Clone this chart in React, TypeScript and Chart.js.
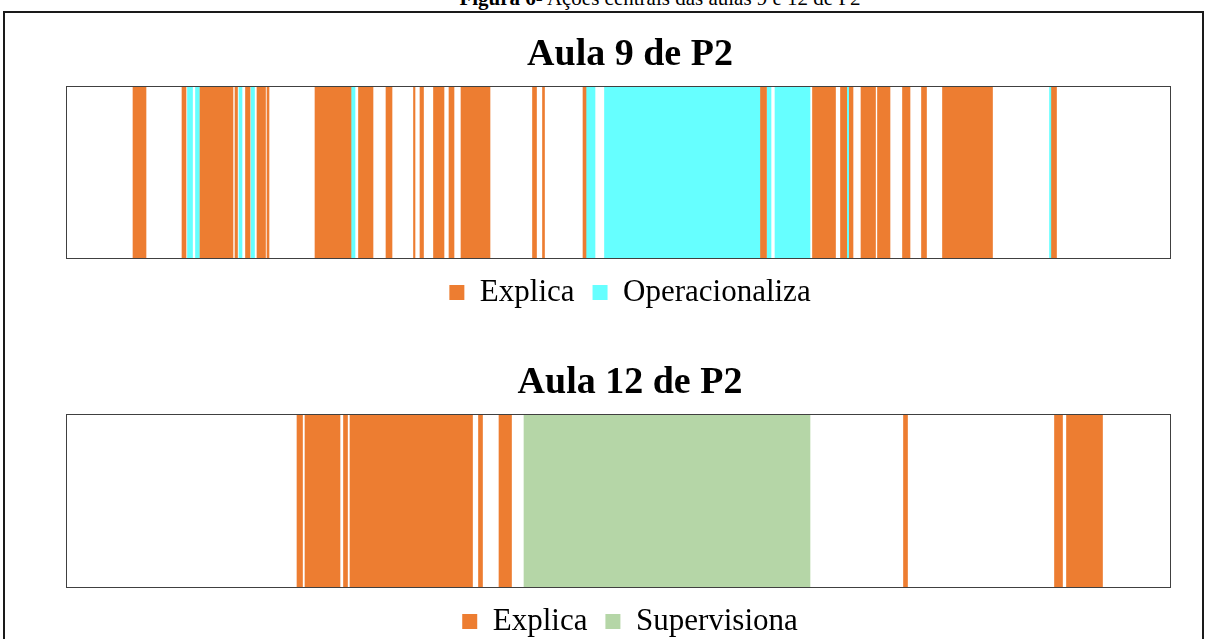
import React, { useEffect, useRef } from 'react';
import { Chart, registerables } from 'chart.js';

Chart.register(...registerables);

// ---- data (time units along the lesson, 0 .. LESSON_LENGTH) ----
const LESSON_LENGTH = 1105;

const aula9Title = 'Aula 9 de P2';
const aula9Explica: [number, number][] = [
  [67, 80], [116, 120], [134, 167], [169, 171.5], [179.5, 184], [191, 199.5], [201, 203],
  [249, 285], [292.5, 307], [320, 326], [347.5, 349], [354, 357.5], [367.5, 378], [383, 388],
  [395, 424], [466.5, 470.5], [476.5, 478.5], [517, 520], [694.5, 700.5], [746.5, 769.5],
  [774.5, 780.7], [783.3, 787], [795, 809.5], [811.5, 824], [836.5, 844], [855.5, 860.5],
  [876.5, 926.5], [985.5, 990.5],
];
const aula9Operacionaliza: [number, number][] = [
  [121.5, 126.5], [129.5, 133.5], [173, 176], [185, 188.5], [285, 289], [520, 529],
  [538.5, 694.5], [701, 705], [709, 744], [781, 783.5], [983.5, 985.5],
];

const aula12Title = 'Aula 12 de P2';
const aula12Explica: [number, number][] = [
  [231, 236.5], [239, 274], [277.5, 281.5], [284, 406.5], [412.5, 416.5], [433, 445.5],
  [837.5, 841.5], [988.5, 996.5], [1000.5, 1036.5],
];
const aula12Supervisiona: [number, number][] = [[458, 744]];

const ORANGE = '#ED7D31';
const CYAN = '#66FFFF';
const GREEN = '#B5D6A7';
const SERIF = '"Liberation Serif", "Times New Roman", Times, serif';

type Series = { label: string; color: string; segments: [number, number][] };

function buildDatasets(series: Series[]) {
  const ds: any[] = [];
  series.forEach((s) =>
    s.segments.forEach((seg) =>
      ds.push({
        label: s.label,
        data: [seg],
        backgroundColor: s.color,
        borderWidth: 0,
        grouped: false,
        barPercentage: 1,
        categoryPercentage: 1,
      })
    )
  );
  return ds;
}

const plotFrame = {
  id: 'plotFrame',
  afterDatasetsDraw(chart: any) {
    const { ctx, chartArea: a } = chart;
    ctx.save();
    ctx.strokeStyle = '#404040';
    ctx.lineWidth = 1;
    ctx.strokeRect(
      Math.round(a.left) + 0.5,
      Math.round(a.top) + 0.5,
      Math.round(a.right - a.left) - 1,
      Math.round(a.bottom - a.top) - 1
    );
    ctx.restore();
  },
};

function TimelineChart(props: {
  title: string;
  series: Series[];
  top: number;
  height: number;
  padBottom: number;
}) {
  const ref = useRef<HTMLCanvasElement>(null);
  useEffect(() => {
    if (!ref.current) return;
    const chart = new Chart(ref.current, {
      type: 'bar',
      data: { labels: [props.title], datasets: buildDatasets(props.series) },
      options: {
        indexAxis: 'y',
        responsive: false,
        animation: false,
        events: [],
        layout: { padding: { top: 19, left: 66, right: 12, bottom: props.padBottom } },
        scales: {
          x: { type: 'linear', min: 0, max: LESSON_LENGTH, display: false },
          y: {
            position: 'right',
            display: true,
            ticks: { display: false },
            grid: { display: false },
            border: { display: false },
            afterFit: (s: any) => {
              s.width = 23;
            },
          },
        },
        plugins: {
          title: {
            display: true,
            text: props.title,
            color: '#000',
            font: { family: SERIF, size: 38, weight: 'bold', lineHeight: '46px' },
            padding: { top: 0, bottom: 8 },
          },
          legend: {
            display: true,
            position: 'bottom',
            labels: {
              boxWidth: 15,
              boxHeight: 15,
              padding: 18,
              color: '#000',
              font: { family: SERIF, size: 31 },
              filter: (item: any, data: any) =>
                data.datasets.findIndex((d: any) => d.label === item.text) === item.datasetIndex,
            },
          },
          tooltip: { enabled: false },
        },
      } as any,
      plugins: [plotFrame],
    });
    return () => chart.destroy();
  }, []);
  return (
    <canvas
      ref={ref}
      width={1206}
      height={props.height}
      style={{ position: 'absolute', left: 0, top: props.top, width: 1206, height: props.height }}
    />
  );
}

export default function App() {
  return (
    <div
      style={{
        position: 'fixed',
        left: 0,
        top: 0,
        width: 1206,
        height: 639,
        overflow: 'hidden',
        background: '#fff',
        fontFamily: SERIF,
      }}
    >
      <div
        style={{
          position: 'absolute',
          left: 360,
          width: 600,
          top: -12,
          fontSize: 21,
          lineHeight: '21px',
          textAlign: 'center',
          color: '#000',
          whiteSpace: 'nowrap',
        }}
      >
        <b>Figura 6</b>- Ações centrais das aulas 9 e 12 de P2
      </div>
      <div
        style={{
          position: 'absolute',
          left: 3,
          top: 11,
          width: 1201,
          height: 700,
          border: '2px solid #1a1a1a',
          boxSizing: 'border-box',
        }}
      />
      <TimelineChart
        title={aula9Title}
        series={[
          { label: 'Explica', color: ORANGE, segments: aula9Explica },
          { label: 'Operacionaliza', color: CYAN, segments: aula9Operacionaliza },
        ]}
        top={13}
        height={316}
        padBottom={11}
      />
      <TimelineChart
        title={aula12Title}
        series={[
          { label: 'Explica', color: ORANGE, segments: aula12Explica },
          { label: 'Supervisiona', color: GREEN, segments: aula12Supervisiona },
        ]}
        top={341}
        height={309}
        padBottom={3}
      />
    </div>
  );
}
